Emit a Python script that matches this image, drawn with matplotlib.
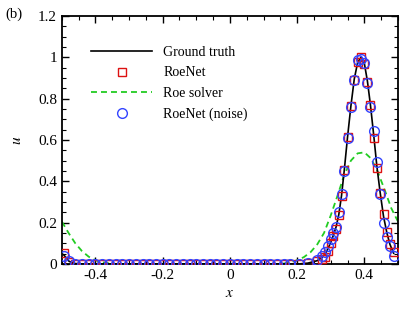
import matplotlib
matplotlib.use('Agg')
import matplotlib.pyplot as plt
from matplotlib.ticker import MultipleLocator

plt.rcParams['font.family'] = ['Liberation Serif', 'DejaVu Serif']
plt.rcParams['mathtext.fontset'] = 'stix'
plt.rcParams['lines.scale_dashes'] = False

# sample points (moving grid, denser around the pulse)
x_pts = [-0.495, -0.478, -0.46, -0.44, -0.42, -0.40, -0.38, -0.36, -0.34, -0.32,
         -0.30, -0.28, -0.26, -0.24, -0.22, -0.20, -0.18, -0.16, -0.14, -0.12,
         -0.10, -0.08, -0.06, -0.04, -0.02, 0.0, 0.02, 0.04, 0.06, 0.08,
         0.10, 0.12, 0.14, 0.16, 0.18, 0.205, 0.232, 0.26, 0.273, 0.284,
         0.292, 0.30, 0.308, 0.316, 0.324, 0.332, 0.34, 0.35, 0.36, 0.37,
         0.38, 0.39, 0.40, 0.409, 0.418, 0.428, 0.437, 0.447, 0.457, 0.467,
         0.476, 0.487]

u_true = [0.045, 0.012, 0.002, 0, 0, 0, 0, 0, 0, 0,
          0, 0, 0, 0, 0, 0, 0, 0, 0, 0,
          0, 0, 0, 0, 0, 0, 0, 0, 0, 0,
          0, 0, 0, 0, 0, 0.0, 0.004, 0.016, 0.03, 0.05,
          0.075, 0.105, 0.14, 0.18, 0.24, 0.33, 0.45, 0.615, 0.765, 0.895,
          0.975, 1.0, 0.97, 0.885, 0.77, 0.62, 0.475, 0.345, 0.23, 0.15,
          0.095, 0.052]

u_roenet = [0.052, 0.01, 0.001, 0, 0, 0, 0, 0, 0, 0,
            0, 0, 0, 0, 0, 0, 0, 0, 0, 0,
            0, 0, 0, 0, 0, 0, 0, 0, 0, 0,
            0, 0, 0, 0, 0, 0.0, 0.003, 0.012, 0.022, 0.035,
            0.065, 0.1, 0.135, 0.17, 0.235, 0.33, 0.455, 0.615, 0.765, 0.89,
            0.975, 1.0, 0.965, 0.88, 0.77, 0.61, 0.465, 0.345, 0.24, 0.155,
            0.095, 0.06]

u_noise = [0.04, 0.012, 0.002, 0, 0, 0, 0, 0, 0, 0,
           0, 0, 0, 0, 0, 0, 0, 0, 0, 0,
           0, 0, 0, 0, 0, 0, 0, 0, 0, 0,
           0, 0, 0, 0, 0, 0.0, 0.004, 0.02, 0.038, 0.06,
           0.087, 0.12, 0.15, 0.18, 0.25, 0.34, 0.45, 0.61, 0.76, 0.89,
           0.985, 0.99, 0.97, 0.875, 0.76, 0.645, 0.495, 0.34, 0.2, 0.13,
           0.085, 0.04]

x_roe = [-0.5, -0.48, -0.46, -0.44, -0.42, -0.40, -0.38, -0.36, -0.34, 0.14,
         0.16, 0.18, 0.20, 0.22, 0.24, 0.26, 0.28, 0.30, 0.32, 0.34,
         0.36, 0.38, 0.40, 0.42, 0.44, 0.46, 0.48, 0.5]
u_roe = [0.205, 0.15, 0.1, 0.062, 0.035, 0.018, 0.008, 0.003, 0.0, 0.0,
         0.002, 0.008, 0.018, 0.033, 0.057, 0.095, 0.15, 0.235, 0.33, 0.43,
         0.5, 0.535, 0.54, 0.51, 0.445, 0.36, 0.27, 0.205]

fig = plt.figure(figsize=(4.15, 3.12), dpi=100)
ax = fig.add_axes([0.149, 0.154, 0.810, 0.795])

ax.plot(x_pts, u_true, color='black', lw=1.2, label='Ground truth', zorder=3)
ax.plot(x_pts, u_roenet, ls='none', marker='s', ms=5.8, mfc='none', mec='#dd1111',
        mew=1.0, label='RoeNet', zorder=4)
ax.plot(x_roe, u_roe, color='#22cc22', lw=1.3, dashes=(4.3, 2.9), label='Roe solver', zorder=2)
ax.plot(x_pts, u_noise, ls='none', marker='o', ms=7.0, mfc='none', mec='#3344ff',
        mew=1.0, label='RoeNet (noise)', zorder=5)

ax.set_xlim(-0.5, 0.5)
ax.set_ylim(0, 1.2)
ax.xaxis.set_minor_locator(MultipleLocator(0.05))
ax.yaxis.set_minor_locator(MultipleLocator(0.05))
ax.set_xticks([-0.4, -0.2, 0, 0.2, 0.4])
ax.set_xticklabels(['-0.4', '-0.2', '0', '0.2', '0.4'])
ax.set_yticks([0, 0.2, 0.4, 0.6, 0.8, 1.0, 1.2])
ax.set_yticklabels(['0', '0.2', '0.4', '0.6', '0.8', '1', '1.2'])
ax.tick_params(which='both', direction='in', top=True, right=True, labelsize=11)
ax.tick_params(which='major', length=5, width=1)
ax.tick_params(which='minor', length=3, width=0.8)
for s in ax.spines.values():
    s.set_linewidth(1.3)

ax.set_xlabel('$x$', fontsize=11, labelpad=4)
ax.set_ylabel('$u$', fontsize=11, labelpad=10, rotation=90)

ax.legend(loc='upper left', bbox_to_anchor=(0.05, 0.93), frameon=False, fontsize=10,
          handlelength=4.4, handletextpad=0.8, labelspacing=0.55)

fig.text(0.012, 0.955, '(b)', fontsize=10.5, va='center', ha='left')

fig.savefig('out.png', dpi=100)
